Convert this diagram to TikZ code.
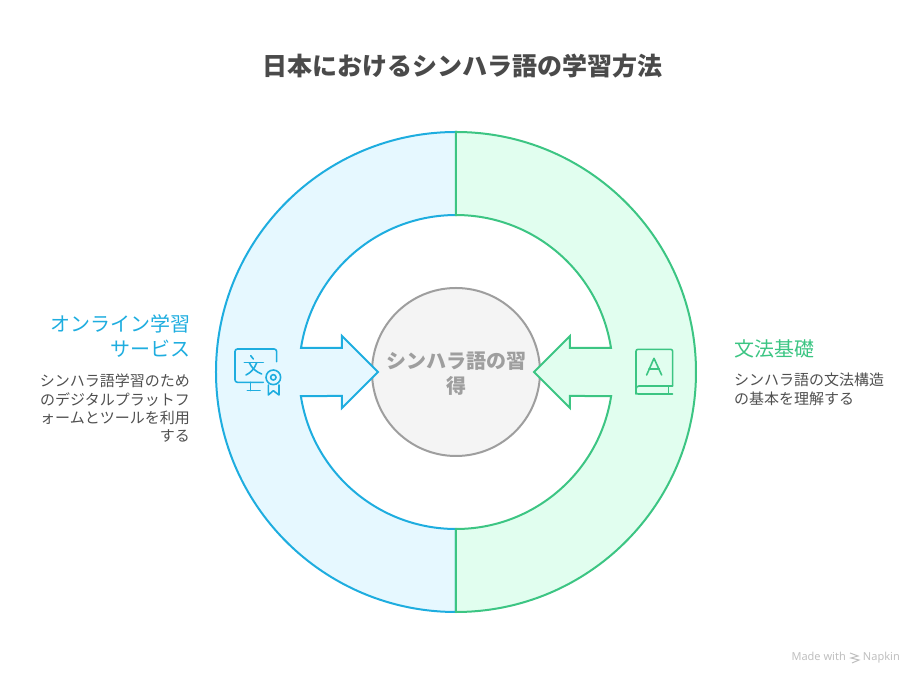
\documentclass[tikz,border=0pt]{standalone}
\usepackage{fontspec}
\setmainfont{Noto Sans CJK JP}
\newfontfamily\latinfont{Noto Sans}
\definecolor{onlineblue}{HTML}{1EADDF}
\definecolor{onlinefill}{HTML}{E6F8FF}
\definecolor{grammargreen}{HTML}{3CC583}
\definecolor{grammarfill}{HTML}{E1FEEF}
\definecolor{titlegray}{HTML}{4A4A4A}
\definecolor{bodygray}{HTML}{4F4F4F}
\definecolor{centergray}{HTML}{9E9E9E}
\definecolor{centerfill}{HTML}{F4F4F4}
\tikzset{
    heading/.style={inner sep=0pt, font=\fontsize{20}{25}\selectfont},
    body/.style={inner sep=0pt, text=bodygray, font=\fontsize{15}{18.3}\selectfont},
    iconline/.style={line width=1.6pt, line cap=round, line join=round},
    footer/.style={inner sep=0pt, anchor=base east, text=black!25, font=\latinfont\fontsize{11}{14}\selectfont}
}

\begin{document}
\begin{tikzpicture}[x=1pt, y=1pt]
    \useasboundingbox (-456,-312) rectangle (468,372);
    
    % Center
    \node[circle, minimum size=168pt, inner sep=0pt, line width=2pt, draw=centergray, fill=centerfill] (center) at (0,0) {};
    
    % Half rings
    \draw[line width=2pt, draw=onlineblue, fill=onlinefill, line join=miter]
        (0,240) arc (90:270:240) -- (0,-157) arc (270:188.8:157)
        -- (-114,-24) -- (-114,-36) -- (-78,0) -- (-114,36) -- (-114,24)
        -- (-155,24) arc (171.2:90:157) -- cycle;
    \draw[line width=2pt, draw=grammargreen, fill=grammarfill, line join=miter]
        (0,240) arc (90:-90:240) -- (0,-157) arc (-90:-8.8:157)
        -- (114,-24) -- (114,-36) -- (78,0) -- (114,36) -- (114,24)
        -- (155,24) arc (8.8:90:157) -- cycle;
    
    \node[align=center, inner sep=0pt, text=centergray, font=\fontsize{20}{25}\selectfont\bfseries] (centertext) at (1,-2) {シンハラ語の習\\得};
    
    % Title
    \node[inner sep=0pt, text=titlegray, font=\fontsize{25}{30}\selectfont\bfseries] (title) at (7,306) {日本におけるシンハラ語の学習方法};
    
    % Labels
    \node[heading, text=onlineblue, align=right, anchor=north east] (onlinehead) at (-265,58) {オンライン学習\\サービス};
    \node[body, align=right, anchor=north east] (onlinebody) at (-266,-2) {シンハラ語学習のため\\のデジタルプラットフ\\ォームとツールを利用\\する};
    \node[heading, text=grammargreen, align=left, anchor=north west] (grammarhead) at (278,32) {文法基礎};
    \node[body, align=left, anchor=north west] (grammarbody) at (278,-1) {シンハラ語の文法構造\\の基本を理解する};
    
    % Monitor icon
    \begin{scope}[shift={(-246,52)}, x=0.3333pt, y=-0.3333pt]
        \draw[iconline, draw=onlineblue, rounded corners=2.5pt] (200,125) -- (200,87) -- (75,87) -- (75,187) -- (160,187);
        \draw[iconline, draw=onlineblue] (122,187) -- (122,212);
        \draw[iconline, draw=onlineblue] (112,212) -- (150,212);
        \draw[iconline, draw=onlineblue] (122,107) -- (130,117);
        \draw[iconline, draw=onlineblue] (103,128) -- (160,128);
        \draw[iconline, draw=onlineblue] (140,128) .. controls (133,148) and (122,158) .. (108,165);
        \draw[iconline, draw=onlineblue] (118,128) .. controls (125,145) and (138,155) .. (155,162);
        \draw[iconline, draw=onlineblue] (190,172) circle (7.3pt);
        \draw[iconline, draw=onlineblue] (190,172) circle (2.7pt);
        \draw[iconline, draw=onlineblue] (175,195) -- (175,225) -- (190,212) -- (207,225) -- (207,195);
    \end{scope}
    
    % Book icon
    \begin{scope}[shift={(74,52)}, x=0.3333pt, y=-0.3333pt]
        \draw[iconline, draw=grammargreen, rounded corners=2pt] (428,198) -- (428,88) -- (318,88) -- (318,222) -- (428,222);
        \draw[iconline, draw=grammargreen, rounded corners=3pt] (318,222) -- (318,198) -- (428,198);
        \draw[iconline, draw=grammargreen] (415,198) -- (415,222);
        \draw[iconline, draw=grammargreen] (350,165) -- (372,115) -- (395,165);
        \draw[iconline, draw=grammargreen] (357,147) -- (388,147);
    \end{scope}
    
    % Footer
    \node[footer] (napkin) at (444,-289) {Napkin};
    \node[footer] (madewith) at (390,-289) {Made with};
    \draw[line width=1pt, draw=black!25] (394,-281) -- (402,-284) -- (395,-286) -- (403,-288) -- (396,-291);
\end{tikzpicture}
\end{document}
